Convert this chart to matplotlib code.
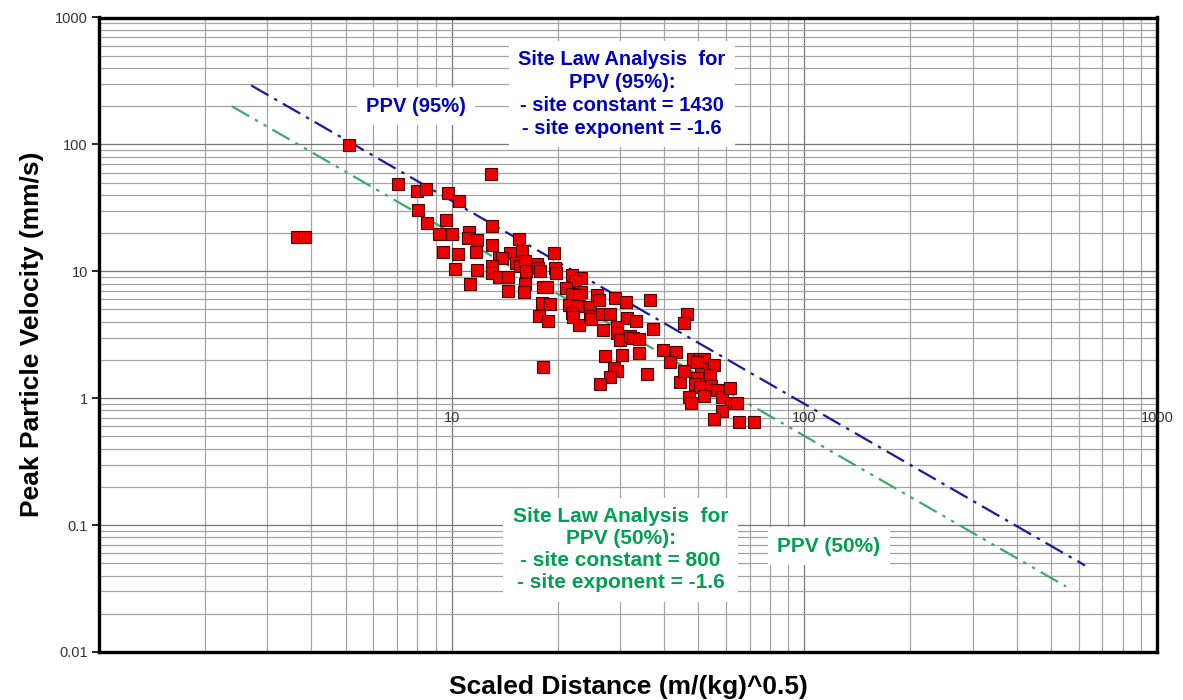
import numpy as np
import matplotlib.pyplot as plt
from matplotlib.ticker import LogLocator, NullFormatter, FixedLocator

plt.rcParams['font.family'] = ['Liberation Sans', 'DejaVu Sans']

# measured blasts: scaled distance and peak particle velocity
sd = [3.64, 3.85, 5.13, 7.06, 7.99, 8.46, 9.78, 10.5, 8.04, 8.51, 9.63, 12.9,
      13.0, 9.2, 10.0, 11.2, 11.1, 11.8, 9.43, 10.4, 11.7, 10.25, 11.8, 15.5,
      13.0, 14.6, 15.8, 13.6, 13.9, 19.5, 13.0, 13.0, 15.2, 15.6, 16.1, 16.3,
      17.5, 17.6, 17.8, 13.6, 14.4, 19.6, 19.7, 22.0, 23.3, 22.4, 11.3, 16.1,
      18.2, 18.6, 21.05, 23.3, 21.9, 23.0, 14.4, 16.05, 18.0, 19.0, 17.7, 18.75,
      18.15, 21.5, 22.6, 21.9, 22.1, 22.9, 24.6, 24.6, 24.9, 25.9, 26.2, 26.7,
      28.2, 26.9, 29.0, 27.3, 28.8, 29.5, 28.2, 26.3, 31.3, 36.6, 31.5, 33.4,
      29.4, 29.5, 30.0, 32.0, 32.6, 34.0, 37.2, 46.4, 45.7, 30.5, 34.0, 39.8,
      43.3, 41.6, 35.9, 44.4, 45.7, 48.2, 50.6, 51.9, 51.0, 49.5, 55.5, 54.0,
      49.5, 49.0, 50.6, 54.3, 56.6, 51.9, 47.2, 47.6, 58.3, 61.5, 61.8, 64.5,
      58.3, 55.4, 65.4, 71.9]
ppv = [18.5, 18.7, 99, 48.5, 43.2, 44.5, 41.6, 36.1, 30.4, 24.2, 25.2, 58.5,
       22.9, 19.8, 19.6, 20.3, 18.3, 17.6, 14.3, 13.6, 14.3, 10.4, 10.2, 17.9,
       16.0, 13.9, 14.4, 12.7, 12.7, 13.9, 11.1, 9.65, 11.6, 11.1, 12.1, 10.1,
       11.4, 10.7, 9.97, 9.07, 9.07, 10.6, 9.65, 9.35, 8.81, 8.46, 7.9, 7.87,
       7.56, 7.56, 7.32, 6.81, 6.57, 6.51, 7.02, 6.83, 5.63, 5.48, 4.45, 4.06,
       1.77, 5.43, 5.3, 4.72, 4.39, 3.74, 5.23, 4.45, 4.17, 6.51, 5.89, 4.58,
       4.58, 3.45, 6.16, 2.16, 1.72, 1.65, 1.48, 1.30, 5.73, 5.97, 4.29, 4.08,
       3.66, 3.28, 2.87, 3.09, 2.97, 2.94, 3.51, 4.61, 3.94, 2.19, 2.28, 2.40,
       2.33, 1.94, 1.55, 1.35, 1.65, 2.03, 2.05, 2.05, 1.69, 1.94, 1.82, 1.52,
       1.44, 1.29, 1.22, 1.25, 1.16, 1.04, 1.03, 0.92, 1.02, 1.20, 0.92, 0.92,
       0.79, 0.68, 0.65, 0.65]

# site law PPV = K * SD^b
k95, k50, b = 1430, 800, -1.6
sd95 = np.array([2.7, 625])
sd50 = np.array([2.38, 552])

x_ticks = [10, 100, 1000]
x_tick_labels = ['10', '100', '1000']
y_ticks = [0.01, 0.1, 1, 10, 100, 1000]
y_tick_labels = ['0.01', '0.1', '1', '10', '100', '1000']

blue_txt = '#0000c0'
green_txt = '#00a050'

fig = plt.figure(figsize=(11.83, 7), dpi=100)
ax = fig.add_axes([0.0837, 0.0686, 0.8943, 0.9064])
ax.set_xscale('log')
ax.set_yscale('log')
ax.set_xlim(1, 1000)
ax.set_ylim(0.01, 1000)

ax.grid(True, which='major', color='#777777', lw=0.9)
ax.grid(True, which='minor', color='#a4a4a4', lw=0.9)
ax.set_axisbelow(True)
ax.xaxis.set_minor_locator(LogLocator(base=10, subs=np.arange(2, 10)))
ax.yaxis.set_minor_locator(LogLocator(base=10, subs=np.arange(2, 10)))
ax.xaxis.set_minor_formatter(NullFormatter())
ax.yaxis.set_minor_formatter(NullFormatter())
ax.yaxis.set_major_locator(FixedLocator(y_ticks))
ax.set_yticklabels(y_tick_labels)
ax.tick_params(axis='y', which='major', length=5, width=1.2, pad=3,
               labelsize=10.5, labelcolor='#333333')
ax.tick_params(which='minor', length=0)
ax.tick_params(axis='x', which='major', length=0, labelbottom=False)
ax.xaxis.set_major_locator(FixedLocator(x_ticks))

for s in ax.spines.values():
    s.set_linewidth(2.4)
    s.set_color('black')

# x tick labels sit on the y = 1 line, Excel style
for v, lab in zip(x_ticks, x_tick_labels):
    ax.annotate(lab, (v, 1), xytext=(0, -14), textcoords='offset points',
                ha='center', va='center', fontsize=10.5, color='#333333')

ax.plot(sd95, k95 * sd95 ** b, color='#1a1aa0', lw=1.6,
        linestyle=(0, (9, 3, 1.5, 3)), zorder=3)
ax.plot(sd50, k50 * sd50 ** b, color='#3caa6c', lw=1.6,
        linestyle=(0, (9, 3, 1.5, 3, 1.5, 3)), zorder=3)

ax.plot(sd, ppv, 's', markersize=8.3, markerfacecolor='#ee0000',
        markeredgecolor='#4a0000', markeredgewidth=0.8, zorder=4)

box = dict(facecolor='white', edgecolor='none', boxstyle='square,pad=0.45')
ax.text(0.4943, 0.8794,
        'Site Law Analysis  for\nPPV (95%):\n- site constant = 1430\n- site exponent = -1.6',
        transform=ax.transAxes, ha='center', va='center', ma='center',
        fontsize=14.5, fontweight='bold', color=blue_txt, linespacing=1.25,
        bbox=box, zorder=5)
ax.text(0.2996, 0.8605, 'PPV (95%)', transform=ax.transAxes,
        ha='center', va='center', fontsize=14.5, fontweight='bold',
        color=blue_txt, bbox=box, zorder=5)
ax.text(0.493, 0.1608,
        'Site Law Analysis  for\nPPV (50%):\n- site constant = 800\n- site exponent = -1.6',
        transform=ax.transAxes, ha='center', va='center', ma='center',
        fontsize=15, fontweight='bold', color=green_txt, linespacing=1.2,
        bbox=box, zorder=5)
ax.text(0.690, 0.167, 'PPV (50%)', transform=ax.transAxes,
        ha='center', va='center', fontsize=15, fontweight='bold',
        color=green_txt, bbox=box, zorder=5)

ax.set_xlabel('Scaled Distance (m/(kg)^0.5)', fontsize=19, fontweight='bold',
              labelpad=13)
ax.set_ylabel('Peak Particle Velocity (mm/s)', fontsize=19, fontweight='bold',
              labelpad=8)

fig.savefig('out.png', dpi=100)
